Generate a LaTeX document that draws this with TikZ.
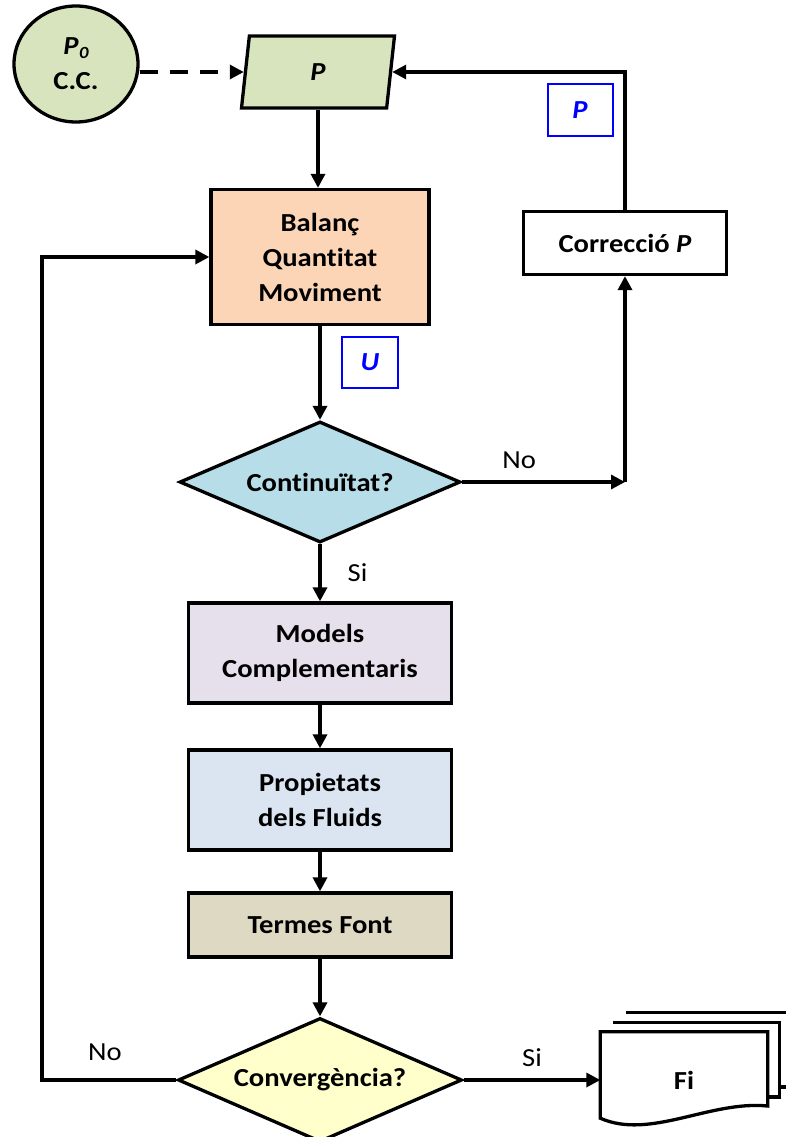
\documentclass[tikz,border=0pt]{standalone}
\usepackage{fontspec}
\setmainfont{Carlito}[FakeStretch=1.1,Ligatures={NoCommon}]
\usetikzlibrary{shapes.geometric,arrows.meta}
\definecolor{cgreen}{HTML}{D7E4BD}
\definecolor{cpeach}{HTML}{FBD5B5}
\definecolor{ccyan}{HTML}{B7DEE8}
\definecolor{clav}{HTML}{E5E0EC}
\definecolor{cpale}{HTML}{DBE5F1}
\definecolor{ctan}{HTML}{DDD9C3}
\definecolor{cyel}{HTML}{FFFFCC}
\begin{document}
\begin{tikzpicture}[x=1pt,y=-1pt,
  every node/.style={font=\fontsize{26}{35}\selectfont\bfseries, align=center, inner sep=0pt},
  box/.style={draw, line width=3.3pt, rectangle},
  dec/.style={draw, line width=3.3pt, diamond, aspect=2.3},
  arr/.style={line width=3.3pt, -{Triangle[length=14pt,width=14pt]}},
  lbl/.style={font=\fontsize{26}{30}\selectfont\mdseries},
  doc/.style={line width=3.3pt, fill=white},
  bluebox/.style={draw=blue, line width=2pt, text=blue, font=\fontsize{26}{30}\selectfont\bfseries\itshape}]
\useasboundingbox (0,0) rectangle (786,1137);
\clip (0,0) rectangle (786,1137);

% nodes
\node[draw, ellipse, line width=3.3pt, fill=cgreen, minimum width=124pt, minimum height=116pt] (cc) at (76,64)
  {{\itshape P\kern0.5pt\raisebox{-4pt}{\fontsize{17}{17}\selectfont 0}}\\C.C.};
\node[draw, trapezium, trapezium left angle=65, trapezium right angle=115, trapezium stretches body,
  line width=3.3pt, fill=cgreen, minimum width=153pt, minimum height=72pt] (para) at (318,72) {\itshape P};
\node[bluebox, minimum width=65pt, minimum height=52pt] (bp) at (580,110) {P};
\node[box, fill=cpeach, minimum width=218pt, minimum height=135pt] (bal) at (320,257) {Balanç\\Quantitat\\Moviment};
\node[box, fill=white, minimum width=203pt, minimum height=63pt] (corr) at (625,243) {Correcció \textit{P}};
\node[bluebox, minimum width=56pt, minimum height=51pt] (bu) at (370,362) {U};
\node[dec, fill=ccyan, minimum width=281pt, minimum height=121pt] (cont) at (320,482) {Continuïtat?};
\node[box, fill=clav, minimum width=263pt, minimum height=100pt] (mod) at (320,653) {Models\\Complementaris};
\node[box, fill=cpale, minimum width=263pt, minimum height=100pt] (prop) at (320,800) {Propietats\\dels Fluids};
\node[box, fill=ctan, minimum width=263pt, minimum height=64pt] (term) at (320,925) {Termes Font};
\node[dec, fill=cyel, minimum width=284pt, minimum height=124pt] (conv) at (320,1080) {Convergència?};

% multi-document Fi
\node[minimum width=167pt, minimum height=86pt] (fi) at (684,1075) {};
\draw[doc] ([xshift=26pt,yshift=19pt]fi.north west) -- ([xshift=26pt,yshift=19pt]fi.north east)
  -- ([xshift=26pt,yshift=-12pt]fi.east) -- ([xshift=12pt,yshift=-12pt]fi.east);
\draw[doc] ([xshift=13pt,yshift=9pt]fi.north west) -- ([xshift=12pt,yshift=9pt]fi.north east)
  -- ([xshift=12pt,yshift=-22pt]fi.east) -- ([xshift=-2pt,yshift=-22pt]fi.east);
\draw[doc] (fi.north west) -- (fi.north east) -- ([yshift=-31pt]fi.east)
  .. controls ([xshift=26pt,yshift=18pt]fi.south) and ([xshift=-34pt,yshift=-22pt]fi.south) .. (fi.south west) -- cycle;
\node at ([yshift=-5pt]fi.center) {Fi};

% connectors
\coordinate (lc) at (42,0);
\draw[line width=3.3pt, dash pattern=on 18pt off 12pt, -{Triangle[length=14pt,width=14pt]}] (cc.east |- para.west) -- (para.west);
\draw[arr] (corr.north) |- (para.east);
\draw[arr] (para.south) -- (bal.north -| para.south);
\draw[arr] (bal.south) -- (cont.north);
\draw[arr] (cont.east) -- (cont.east -| corr.south) node[lbl, pos=0.35, above=12pt] {No};
\draw[arr] (cont.east -| corr.south) -- (corr.south);
\draw[arr] (cont.south) -- (mod.north) node[lbl, midway, right=26pt] {Si};
\draw[arr] (mod.south) -- (prop.north);
\draw[arr] (prop.south) -- (term.north);
\draw[arr] (term.south) -- (conv.north);
\draw[arr] (conv.east) -- (conv.east -| fi.west) node[lbl, midway, above=12pt] {Si};
\draw[arr] (conv.west) -- (conv.west -| lc) |- (bal.west);
\node[lbl] (no2) at (105,1052) {No};
\end{tikzpicture}
\end{document}
